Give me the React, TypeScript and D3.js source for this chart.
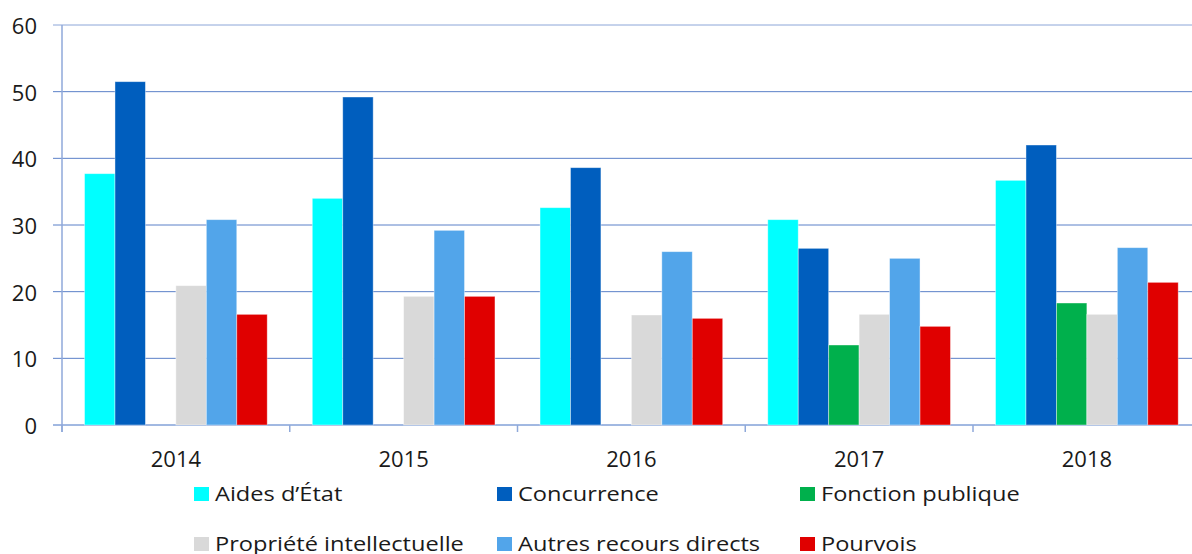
import React from "react";
import * as d3 from "d3";

const years = ["2014", "2015", "2016", "2017", "2018"];
const series = [
  "Aides d’État",
  "Concurrence",
  "Fonction publique",
  "Propriété intellectuelle",
  "Autres recours directs",
  "Pourvois",
];
const colors = ["#00FFFF", "#005EBE", "#00B04C", "#D9D9D9", "#52A5EA", "#E00000"];

const aides = [37.7, 34.0, 32.6, 30.8, 36.7];
const concurrence = [51.5, 49.2, 38.6, 26.5, 42.0];
const fonction = [0, 0, 0, 12.0, 18.3];
const propriete = [20.9, 19.3, 16.5, 16.6, 16.6];
const autres = [30.8, 29.2, 26.0, 25.0, 26.6];
const pourvois = [16.6, 19.3, 16.0, 14.8, 21.4];
const values = [aides, concurrence, fonction, propriete, autres, pourvois];

const yTicks = [0, 10, 20, 30, 40, 50, 60];

const W = 1192;
const H = 554;
const left = 62;
const top = 25;
const bottom = 425;
const font = "'Open Sans', 'Noto Sans', sans-serif";

// legend text in the reference is drawn a bit wider than normal
const Label = ({ x, y, anchor = "start", size = 22, stretch = 1, children }) => (
  <text
    transform={`translate(${x}, ${y}) scale(${stretch}, 1)`}
    textAnchor={anchor}
    dominantBaseline="central"
    fontFamily={font}
    fontSize={size}
    fill="#1a1a1a"
  >
    {children}
  </text>
);

const App = () => {
  const x = d3.scaleBand().domain(years).range([left, left + 5 * 227.75]);
  const xs = d3
    .scaleBand()
    .domain(series)
    .range([0, x.bandwidth()])
    .paddingOuter(0.74);
  const y = d3.scaleLinear().domain([0, 60]).range([bottom, top]);

  const legendCols = [194, 497, 800];
  const legendRows = [493, 543];

  return (
    <svg
      width={W}
      height={H}
      style={{ position: "absolute", left: 0, top: 0, background: "#fff" }}
    >
      {yTicks.map(t => (
        <g key={t}>
          <line
            x1={53}
            x2={W}
            y1={y(t)}
            y2={y(t)}
            stroke={t === 0 ? "#4472C4" : "#5B80C8"}
            strokeOpacity={t === 60 ? 0.7 : 1}
            strokeWidth={1}
          />
          <Label x={37} y={y(t)} anchor="end">
            {t}
          </Label>
        </g>
      ))}
      <line x1={left} x2={left} y1={top} y2={432} stroke="#8FA9DA" strokeWidth={1.5} />
      {years.map((yr, i) => (
        <g key={yr}>
          <line
            x1={x(yr) as number}
            x2={x(yr) as number}
            y1={bottom}
            y2={432}
            stroke="#8FA9DA"
            strokeWidth={1.5}
          />
          <Label x={(x(yr) as number) + x.bandwidth() / 2} y={458} anchor="middle">
            {yr}
          </Label>
          {series.map((s, j) => {
            const v = values[j][i];
            if (!v) return null;
            return (
              <rect
                key={s}
                x={(x(yr) as number) + (xs(s) as number)}
                y={y(v)}
                width={xs.bandwidth()}
                height={bottom - y(v)}
                fill={colors[j]}
                stroke="#ffffff"
                strokeOpacity={0.5}
                strokeWidth={0.8}
              />
            );
          })}
        </g>
      ))}
      {series.map((s, j) => {
        const lx = legendCols[j % 3];
        const ly = legendRows[Math.floor(j / 3)];
        return (
          <g key={s}>
            <rect x={lx} y={ly - 6} width={15} height={14} fill={colors[j]} />
            <Label x={lx + 21} y={ly} size={20} stretch={1.18}>
              {s}
            </Label>
          </g>
        );
      })}
    </svg>
  );
};

export default App;
